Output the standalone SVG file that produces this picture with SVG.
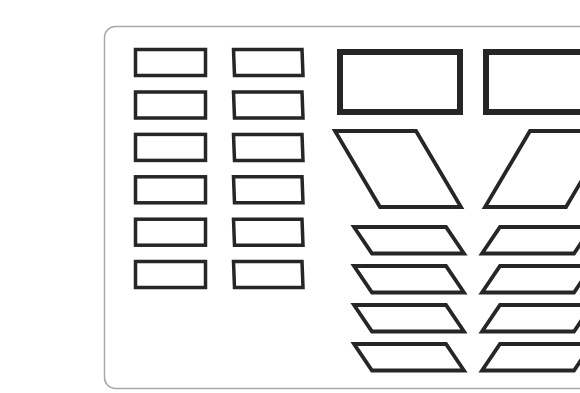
<svg xmlns="http://www.w3.org/2000/svg" width="580" height="393" viewBox="0 0 580 393">
<defs>
<style>
.frame{fill:#fff;stroke:#a8a8a8;stroke-width:1.5}
.key{fill:#fff;stroke:#262626;stroke-width:3.5}
.big{fill:#fff;stroke:#262626;stroke-width:6}
.para{fill:#fff;stroke:#262626;stroke-width:3.8;stroke-linejoin:miter}
</style>
</defs>
<rect width="580" height="393" fill="#fff"/>
<rect class="frame" x="104.5" y="26.5" width="520" height="362" rx="11"/>
<g id="left-column">
<rect class="key" x="135.5" y="49.5" width="70" height="26"/>
<rect class="key" x="135.5" y="92" width="70" height="26"/>
<rect class="key" x="135.5" y="134.4" width="70" height="26"/>
<rect class="key" x="135.5" y="176.8" width="70" height="26"/>
<rect class="key" x="135.5" y="219.2" width="70" height="26"/>
<rect class="key" x="135.5" y="261.5" width="70" height="26"/>
</g>
<g id="right-column">
<path class="key" d="M233.5,49.5 H302 L303,75.5 H234.5 Z"/>
<path class="key" d="M233.5,92 H302 L303,118 H234.5 Z"/>
<path class="key" d="M233.5,134.4 H302 L303,160.4 H234.5 Z"/>
<path class="key" d="M233.5,176.8 H302 L303,202.8 H234.5 Z"/>
<path class="key" d="M233.5,219.2 H302 L303,245.2 H234.5 Z"/>
<path class="key" d="M233.5,261.5 H302 L303,287.5 H234.5 Z"/>
</g>
<g id="big-rect-left"><rect class="big" x="340" y="52" width="120" height="60"/></g>
<g id="big-rect-right"><rect class="big" x="486" y="52" width="120" height="60"/></g>
<g id="big-para-left"><path class="para" d="M335,131 L416,131 L461,207 L380,207 Z"/></g>
<g id="big-para-right"><path class="para" d="M611,131 L530,131 L485,207 L566,207 Z"/></g>
<g id="small-paras-left">
<path class="para" d="M354,227 L446,227 L464,253.5 L372,253.5 Z"/>
<path class="para" d="M354,266 L446,266 L464,292.5 L372,292.5 Z"/>
<path class="para" d="M354,305 L446,305 L464,331.5 L372,331.5 Z"/>
<path class="para" d="M354,344 L446,344 L464,370.5 L372,370.5 Z"/>
</g>
<g id="small-paras-right">
<path class="para" d="M592,227 L500,227 L482,253.5 L574,253.5 Z"/>
<path class="para" d="M592,266 L500,266 L482,292.5 L574,292.5 Z"/>
<path class="para" d="M592,305 L500,305 L482,331.5 L574,331.5 Z"/>
<path class="para" d="M592,344 L500,344 L482,370.5 L574,370.5 Z"/>
</g>
<g id="connectors"/>
</svg>
